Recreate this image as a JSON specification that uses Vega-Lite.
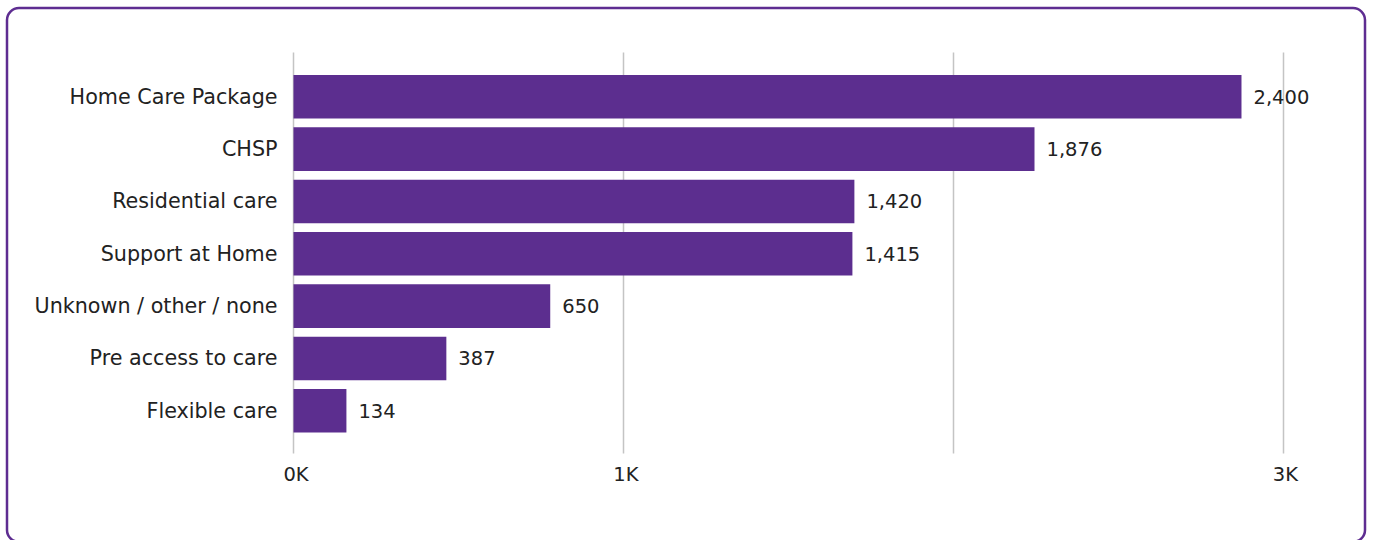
{
  "$schema": "https://vega.github.io/schema/vega-lite/v6.json",
  "autosize": {"type": "none"},
  "padding": {"left": 7, "top": 8, "right": 8, "bottom": 0},
  "width": 1358,
  "height": 534,
  "background": "white",
  "data": {
    "values": [
      {"category": "Home Care Package", "value": 2400},
      {"category": "CHSP", "value": 1876},
      {"category": "Residential care", "value": 1420},
      {"category": "Support at Home", "value": 1415},
      {"category": "Unknown / other / none", "value": 650},
      {"category": "Pre access to care", "value": 387},
      {"category": "Flexible care", "value": 134}
    ]
  },
  "encoding": {
    "y": {
      "field": "category",
      "type": "nominal",
      "sort": null,
      "scale": {"paddingInner": 0.167, "paddingOuter": 0, "range": [67, 424.6]},
      "axis": {
        "title": null,
        "ticks": false,
        "domain": false,
        "grid": false,
        "labelAlign": "right",
        "labelBaseline": "middle",
        "labelPadding": -270,
        "labelOffset": 1,
        "labelFont": "DejaVu Sans",
        "labelFontSize": 20.7,
        "labelColor": "#222222",
        "labelLimit": 400
      }
    },
    "x": {
      "field": "value",
      "type": "quantitative",
      "scale": {"domain": [-725.3, 2712.7], "nice": false, "zero": false},
      "axis": {
        "title": null,
        "values": [0, 835, 1670, 2505],
        "labelExpr": "datum.value == 0 ? '0K' : datum.value < 1000 ? '1K' : datum.value < 2000 ? '' : '3K'",
        "grid": false,
        "domain": false,
        "offset": -89,
        "ticks": true,
        "tickSize": -401,
        "tickColor": "#c4c4c4",
        "tickWidth": 1.5,
        "labelPadding": 413,
        "labelFont": "DejaVu Sans",
        "labelFontSize": 19.5,
        "labelColor": "#222222",
        "labelBaseline": "top",
        "labelOffset": 2
      }
    }
  },
  "layer": [
    {"mark": {"type": "bar", "color": "#5c2e8f"}},
    {
      "mark": {"type": "text", "align": "left", "baseline": "middle", "dx": 12, "dy": 1, "font": "DejaVu Sans", "fontSize": 19.5, "color": "#222222"},
      "encoding": {"text": {"field": "value", "type": "quantitative", "format": ","}}
    }
  ],
  "config": {
    "view": {"stroke": "#5e2d91", "strokeWidth": 2.5, "cornerRadius": 12, "fill": "white"}
  }
}
